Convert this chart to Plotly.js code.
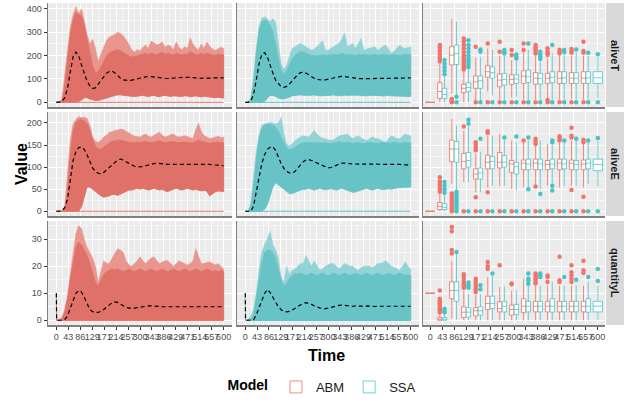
<!DOCTYPE html>
<html><head><meta charset="utf-8">
<script src="https://cdn.plot.ly/plotly-3.0.1.min.js"></script>
<style>html,body{margin:0;padding:0;background:#fff}#chart{width:627px;height:402px}</style>
</head><body><div id="chart"></div>
<script>
// ---------------- DATA ----------------
const TIME = [0,10,20,30,40,50,60,70,80,90,
 100,110,120,130,140,150,160,170,180,190,
 200,210,220,230,240,250,260,270,280,290,
 300,310,320,330,340,350,360,370,380,390,
 400,410,420,430,440,450,460,470,480,490,
 500,510,520,530,540,550,560,570,580,590,
 600];
const TIME_L = [0,1,10,20,30,40,50,60,70,80,90,
 100,110,120,130,140,150,160,170,180,190,
 200,210,220,230,240,250,260,270,280,290,
 300,310,320,330,340,350,360,370,380,390,
 400,410,420,430,440,450,460,470,480,490,
 500,510,520,530,540,550,560,570,580,590,
 600];
const TICK_TIMES = [0,42.857,85.714,128.571,171.429,214.286,257.143,300,342.857,385.714,428.571,471.429,514.286,557.143,600];
const TICK_LABELS = ['0','43','86','129','171','214','257','300','343','386','429','471','514','557','600'];
const Y_TICKS_T = [0,100,200,300,400];
const Y_TICKS_E = [0,50,100,150,200];
const Y_TICKS_L = [0,10,20,30];
const MODELS = ['ABM','SSA'];
const ROW_LABELS = ['aliveT','aliveE','quantityL'];

// aliveT trajectories (envelope of runs: spikes max, dense top, bottom, mean)
const T_ABM_hi = [0,0,15,110,225,320,375,410,380,400,
 350,290,250,270,230,175,205,235,265,280,
 285,290,300,295,285,270,250,225,215,225,
 220,235,245,230,262,255,245,250,258,235,
 245,240,225,258,235,225,238,230,275,250,
 232,225,250,230,258,240,228,222,230,236,
 230];
const T_ABM_top = [0,0,5,70,185,290,350,385,375,370,
 330,270,205,155,128,132,152,178,198,212,
 218,222,225,220,214,205,198,194,195,200,
 203,205,210,205,212,208,203,210,214,205,
 210,205,202,210,205,203,207,205,216,210,
 203,205,210,205,212,205,203,200,205,205,
 203];
const T_ABM_lo = [0,0,0,0,0,0,0,0,3,10,
 20,20,14,10,8,8,10,14,18,22,
 26,30,32,32,30,28,28,26,25,26,
 28,30,27,25,28,30,26,24,28,30,
 27,25,28,30,26,25,28,27,24,26,
 28,25,23,26,27,24,22,20,22,20,
 18];
const T_ABM_mean = [0,0,3,20,60,130,195,215,200,160,
 120,90,70,60,62,78,95,112,125,132,
 134,126,114,103,96,93,93,95,98,102,
 105,108,110,111,110,108,106,105,104,103,
 102,103,105,107,108,108,107,107,107,106,
 105,103,103,104,104,104,104,104,104,105,
 105];
const T_SSA_hi = [0,0,20,110,230,320,360,366,358,345,
 358,345,250,165,140,160,195,230,238,245,
 252,245,238,230,223,228,238,250,263,225,
 223,232,238,245,252,270,297,238,245,252,
 230,250,273,223,228,230,235,238,223,230,
 240,245,225,209,220,235,245,235,230,235,
 238];
const T_SSA_top = [0,0,10,85,210,310,345,352,348,330,
 300,250,185,138,122,133,160,185,200,210,
 215,215,210,205,200,200,198,200,203,200,
 200,203,205,203,205,210,205,203,205,203,
 200,205,203,205,203,200,203,205,200,203,
 205,203,200,203,205,203,200,203,205,203,
 205];
const T_SSA_lo = [0,0,0,0,0,0,0,5,15,30,
 30,25,18,15,15,18,22,28,30,31,
 32,30,31,29,30,32,30,28,30,31,
 29,30,32,30,28,29,31,30,28,29,
 30,31,29,27,28,30,29,28,30,29,
 27,28,30,28,26,27,28,27,26,25,
 25];
const T_SSA_mean = [0,0,5,35,95,165,205,213,195,155,
 125,95,80,67,64,68,78,92,107,119,
 127,129,125,117,110,103,98,95,95,96,
 98,101,104,108,110,111,110,108,105,104,
 103,102,101,101,102,102,103,103,104,104,
 104,104,104,104,103,104,104,104,104,105,
 105];

// aliveE trajectories
const E_ABM_hi = [0,0,0,10,77,160,198,208,214,212,
 213,210,195,168,158,156,160,168,172,179,
 180,183,184,186,185,181,178,172,170,169,
 168,172,175,170,168,172,176,179,172,168,
 170,174,175,170,168,170,171,169,166,164,
 185,199,180,171,168,164,166,168,170,167,
 168];
const E_ABM_top = [0,0,0,6,45,130,182,200,207,207,
 205,198,184,163,148,141,141,145,151,155,
 158,160,161,161,160,158,156,155,155,156,
 155,157,158,156,155,156,158,159,157,155,
 156,157,158,156,155,156,157,156,155,154,
 158,161,158,156,155,154,155,156,157,156,
 155];
const E_ABM_lo = [0,0,0,0,0,0,0,0,0,10,
 35,55,55,50,45,40,35,32,33,35,
 38,38,36,40,42,45,48,48,50,52,
 50,52,50,48,50,52,50,48,50,46,
 45,48,50,52,50,48,50,52,50,48,
 50,48,46,48,45,35,40,44,46,45,
 45];
const E_ABM_mean = [0,0,2,8,28,78,115,135,144,146,
 140,128,112,98,90,86,85,88,94,100,
 106,112,116,118,116,112,108,105,102,100,
 100,101,103,105,107,108,109,108,107,107,
 106,106,106,106,106,106,106,106,106,107,
 107,107,106,106,106,106,105,105,104,104,
 103];
const E_SSA_hi = [0,0,20,80,135,172,194,198,200,201,
 200,198,200,213,175,152,148,152,160,165,
 168,171,170,168,175,183,175,168,166,164,
 162,160,162,166,171,172,174,175,170,164,
 168,171,166,162,160,164,168,166,164,162,
 158,156,165,171,168,164,164,170,175,172,
 171];
const E_SSA_top = [0,0,10,55,118,165,188,195,197,197,
 195,190,181,168,153,143,139,141,145,150,
 153,155,156,156,155,155,156,155,154,155,
 154,153,155,156,157,156,155,156,155,154,
 155,156,154,153,155,156,155,154,153,155,
 156,155,154,155,156,155,154,155,156,155,
 155];
const E_SSA_lo = [0,0,0,0,0,0,0,5,15,35,
 55,65,60,55,50,45,40,40,42,45,
 48,50,50,52,50,48,50,52,50,49,
 50,51,50,48,50,52,50,48,45,43,
 44,45,48,50,52,50,48,50,52,50,
 49,50,51,50,52,53,54,55,55,55,
 55];
const E_SSA_mean = [0,0,0,12,45,82,108,128,140,145,
 146,138,122,108,97,90,87,86,90,98,
 106,112,116,117,115,112,109,106,103,100,
 98,99,101,104,107,109,109,108,108,107,
 107,107,107,106,106,106,106,106,106,106,
 106,106,106,106,106,106,106,105,105,105,
 105];

// quantityL trajectories (time grid TIME_L)
const L_ABM_hi = [10,0,0.5,1,4,9,17,24,32,35,34,
 30,27,25,23,20,14,18,22,21,21,
 23,25,26.5,26,25,22,20.5,20,21,22,
 23.5,22,21,22,23,23.5,22,21,21.5,22,
 22,21,20,21,22,21.5,21,20.5,21,22,
 26.5,24,21,21,21.5,21.6,21,20.5,21,20,
 19];
const L_ABM_top = [10,0,0,0.5,3,8,15,21,27,29,28,
 26,24,21,17,14,12.5,15,17,18,18.5,
 19,18.5,19,18.5,18,18.5,19,18.5,18,18.5,
 19,18.5,18,18.5,19,18.5,18,18.5,19,18.5,
 18,18.5,19,18.5,18,18.5,19,18.5,18,18.5,
 19,18.5,18,18.5,19,18.5,18,18.5,18,18.5,
 18];
const L_ABM_lo = [0,0,0,0,0,0,0,0,0,0,0,
 0,0,0,0,0,0,0,0,0,0,
 0,0,0,0,0,0,0,0,0,0,
 0,0,0,0,0,0,0,0,0,0,
 0,0,0,0,0,0,0,0,0,0,
 0,0,0,0,0,0,0,0,0,0,
 0];
const L_ABM_mean = [10,0,0,0,0.3,1.5,4.5,7.5,10,11,10.5,
 8.5,6,4,3.2,2.9,2.9,3.3,4,4.9,5.8,
 6.5,6.8,6.6,6,5.3,4.8,4.5,4.4,4.5,4.7,
 4.9,5.1,5.2,5.3,5.3,5.3,5.2,5.1,5,5,
 5,5,5,5.1,5.1,5.1,5,5,5,5,
 5.1,5.1,5,5,5,5,5,5,5,5,
 5];
const L_SSA_hi = [10,0,0.3,1.5,4,10,19,25,28,30,33,
 28,26,23,16,14,20,17,18.5,19,20,
 21,21,24,22,20,22,20,18.5,19,20,
 20.5,21,21,20,19,20,21,20.5,20,20,
 19,18.5,19.5,20,20,20,19.5,20,21,21,
 21.5,22,21,20,19.5,19,18.5,20,21.6,20,
 19];
const L_SSA_top = [10,0,0,0.5,2,8,15,21,25,26,26,
 25,23,19,15,12.5,13.5,15.5,16.5,17.5,17,
 17.5,17,16.5,17,17.5,17,16.5,17,17.5,17,
 16.5,17,17.5,17,16.5,17,17.5,17,16.5,17,
 17.5,17,16.5,17,17.5,17,16.5,17,17.5,17,
 16.5,17,17.5,17,16.5,17,17.5,17,16.5,17,
 16.5];
const L_SSA_lo = [0,0,0,0,0,0,0,0,0,0,0,
 0,0,0,0,0,0,0,0,0,0,
 0,0,0,0,0,0,0,0,0,0,
 0,0,0,0,0,0,0,0,0,0,
 0,0,0,0,0,0,0,0,0,0,
 0,0,0,0,0,0,0,0,0,0,
 0];
const L_SSA_mean = [10,0,0,0,0.2,2,4.8,7.5,9.9,11.4,10.3,
 8.5,6.5,5,3.9,3.3,3.1,3.3,3.8,4.4,5.2,
 5.9,6.3,6.5,6.3,5.9,5.4,4.9,4.6,4.4,4.3,
 4.5,4.8,5.1,5.3,5.5,5.6,5.5,5.4,5.2,5.2,
 5.3,5.2,5.1,5.2,5.3,5.2,5.2,5.1,5.2,5.3,
 5.2,5.2,5.1,5.2,5.2,5.3,5.2,5.2,5.1,5.2,
 5.2];

// Boxplot statistics per sampled time (15 categories)
const BT_ABM_q1  = [0,17,160,41,60,107,67,77,81,78,81,81,81,81,null];
const BT_ABM_med = [0,46,202,60,88,131,95,98,112,103,103,103,103,103,null];
const BT_ABM_q3  = [0,84,238,77,113,157,121,118,135,127,124,131,127,131,null];
const BT_ABM_lo  = [0,0,38,0,8,46,12,20,12,12,20,12,15,12,null];
const BT_ABM_hi  = [0,165,357,130,190,231,200,180,215,200,188,200,200,200,null];
const BT_ABM_out = [[],[175,185,195,205,215,225,235,245],[0,3,8,14],[140,150,160,170,180,190,200,215,230,245,260,273],[238,0],[252,0],[216,259,0],[202,224,0],[224,252,0],[209,218,227,236,245,0],[202,210,218,231,10,0],[209,218,225,0],[212,220,228,0],[212,220,259,0],[]];
const BT_SSA_q1  = [null,17,162,46,60,103,74,81,85,78,84,81,81,81,81];
const BT_SSA_med = [null,34,209,64,93,127,98,100,110,103,107,105,103,105,105];
const BT_SSA_q3  = [null,60,245,84,113,152,124,118,138,124,131,131,127,131,131];
const BT_SSA_lo  = [null,0,31,0,5,30,12,25,10,12,12,12,12,12,17];
const BT_SSA_hi  = [null,110,345,140,195,224,200,175,225,175,210,205,212,200,195];
const BT_SSA_out = [[],[120,135,150,165,181],[24,0],[150,160,170,180,190,200,215,230,245,266],[216,226,0],[0],[209,215,224,0],[188,195,205,0],[252,0],[185,195,205,216,0],[245,0],[215,224,0],[226,0],[212,0],[206,0]];

const BE_ABM_q1  = [0,4,112,96,73,96,98,88,94,94,94,94,94,94,null];
const BE_ABM_med = [0,11,141,113,84,111,111,107,109,109,106,109,109,107,null];
const BE_ABM_q3  = [0,20,161,131,96,127,133,115,116,118,115,118,116,116,null];
const BE_ABM_lo  = [0,0,62,66,43,54,58,50,54,60,58,54,58,54,null];
const BE_ABM_hi  = [0,39,209,182,130,171,175,160,156,148,152,155,160,152,null];
const BE_ABM_out = [[],[44,50,56,62,68,77],[0,5,10,15,20,25,30,35,40],[192,0],[138,144,150,156,32,0],[177,181,43,0],[0],[0],[160,0],[152,158,164,56,0],[0],[160,165,170,0],[167,171,189,48,0],[156,162,33,0],[]];
const BE_SSA_q1  = [null,4,111,100,73,96,100,84,94,94,96,96,94,96,92];
const BE_SSA_med = [null,9,141,115,87,113,111,101,107,107,107,107,106,109,106];
const BE_SSA_q3  = [null,17,158,133,98,124,126,111,118,118,118,118,115,118,118];
const BE_SSA_lo  = [null,0,47,66,43,58,58,47,54,50,62,58,58,62,56];
const BE_SSA_hi  = [null,36,194,192,135,171,161,156,160,160,152,156,160,156,160];
const BE_SSA_out = [[],[42,50,58,66],[0,5,10,15,20,25,30,35,40,44],[198,207,0],[164,0],[0],[167,0],[169,0],[167,50,0],[39,0],[156,160,58,47,0],[160,0],[164,0],[160,0],[166,0]];

const BL_ABM_q1  = [10,0,8,1,1.6,4,3.1,1.9,2.8,3.1,3.1,3.1,3.1,3.1,null];
const BL_ABM_med = [10,0,11,3,3.5,6.2,4.3,4,5.2,5.2,5.2,5.2,5.2,5.2,null];
const BL_ABM_q3  = [10,1,14.2,5,4.7,8.9,6.8,5.6,8,7,7,7,7,7,null];
const BL_ABM_lo  = [10,0,0.6,0,0,0,0,0,0,0,0,0,0,0,null];
const BL_ABM_hi  = [10,2.5,22,11,9.3,16,12.3,11,15.4,12.8,12.8,12.8,12.8,12.8,null];
const BL_ABM_out = [[],[3,3.5,4,4.5,5,5.5,6,6.5,7,7.5,8,11],[24.7,26,33,34.5],[12,13,14,15,16,17],[10.5,11.5,12.5,13.5,14.5,15.4],[19,20,21.6],[20.4],[13.3,13.6],[],[13.6,14.2,15,15.6,16.4,17.3],[14.2,16,16.6],[14.2,14.8,23.5],[14.2,15.4,16.6,17.8,20.4],[17.5,18.5,22],[]];
const BL_SSA_q1  = [null,0,7,1.2,1.9,4.3,3.1,2.1,3.1,3.1,3,3.1,3.1,3,3.1];
const BL_SSA_med = [null,0.4,11,3,3.5,6.2,5.2,4,5.2,5.2,5.2,5.2,5.2,5.2,5.2];
const BL_SSA_q3  = [null,1,14.2,4.7,5,8.9,7,5.9,7,7,8,7,7,8,7];
const BL_SSA_lo  = [null,0,0.3,0,0,0,0,0,0,0,0,0,0,0,0];
const BL_SSA_hi  = [null,2.5,24.7,9.8,9.6,16.5,12.5,11,12.8,12.8,14.2,12.8,12.8,14.2,12.8];
const BL_SSA_out = [[],[3,3.5,4.3],[25.3],[12,13,14],[11.5,13],[17.3],[],[],[13.5,14.8,15.4,17.3],[16,16.7,17.3],[],[16],[15],[16],[14.5,19]];

// ---------------- LAYOUT / STYLE ----------------
const W = 627, H = 402;
const COLX = [[48,232],[237,419],[423,605]];
const ROWY = [[3,107],[112,216],[221,325]];
const FONT = 'Liberation Sans, Arial, Helvetica, sans-serif';
const STYLE = {
  ABM: {core:'rgb(223,113,104)', fringe:'rgb(233,150,142)', zero:'rgb(236,118,108)', box:'rgba(240,118,108,0.85)', pt:'rgb(240,116,106)'},
  SSA: {core:'rgb(104,195,198)', fringe:'rgb(146,211,213)', zero:'rgb(90,196,199)', box:'rgba(50,193,198,0.7)', pt:'rgb(70,196,200)'}
};
const ROWS = [
  {range:[-20,425], ticks:Y_TICKS_T, time:TIME,
   band:{ABM:[T_ABM_hi,T_ABM_top,T_ABM_lo,T_ABM_mean], SSA:[T_SSA_hi,T_SSA_top,T_SSA_lo,T_SSA_mean]},
   box:{ABM:[BT_ABM_q1,BT_ABM_med,BT_ABM_q3,BT_ABM_lo,BT_ABM_hi,BT_ABM_out], SSA:[BT_SSA_q1,BT_SSA_med,BT_SSA_q3,BT_SSA_lo,BT_SSA_hi,BT_SSA_out]}},
  {range:[-10.7,224.7], ticks:Y_TICKS_E, time:TIME,
   band:{ABM:[E_ABM_hi,E_ABM_top,E_ABM_lo,E_ABM_mean], SSA:[E_SSA_hi,E_SSA_top,E_SSA_lo,E_SSA_mean]},
   box:{ABM:[BE_ABM_q1,BE_ABM_med,BE_ABM_q3,BE_ABM_lo,BE_ABM_hi,BE_ABM_out], SSA:[BE_SSA_q1,BE_SSA_med,BE_SSA_q3,BE_SSA_lo,BE_SSA_hi,BE_SSA_out]}},
  {range:[-1.75,36.75], ticks:Y_TICKS_L, time:TIME_L,
   band:{ABM:[L_ABM_hi,L_ABM_top,L_ABM_lo,L_ABM_mean], SSA:[L_SSA_hi,L_SSA_top,L_SSA_lo,L_SSA_mean]},
   box:{ABM:[BL_ABM_q1,BL_ABM_med,BL_ABM_q3,BL_ABM_lo,BL_ABM_hi,BL_ABM_out], SSA:[BL_SSA_q1,BL_SSA_med,BL_SSA_q3,BL_SSA_lo,BL_SSA_hi,BL_SSA_out]}}
];

const CATS = TICK_LABELS.map((_, i) => i + 1);
const timeMinor = TICK_TIMES.slice(1).map((v, i) => (v + TICK_TIMES[i]) / 2);

const traces = [];
const layout = {
  width: W, height: H, margin: {l:0, r:0, t:0, b:0},
  paper_bgcolor: '#ffffff', plot_bgcolor: '#EBEBEB',
  font: {family: FONT, color: '#1a1a1a'},
  showlegend: true,
  boxmode: 'overlay',
  legend: {orientation:'h', x: 323/W, xanchor:'center', y: 1 - 387/H, yanchor:'middle',
    title: {text:'<b>Model</b>', side:'left', font:{size:14, color:'#000'}},
    font: {size:13, color:'#1a1a1a'}, bgcolor:'rgba(0,0,0,0)', traceorder:'normal', itemwidth:30},
  shapes: [], annotations: []
};

function axId(r, c) { const p = r * 3 + c; return p === 0 ? '' : String(p + 1); }

let legendShown = {ABM:false, SSA:false};

ROWS.forEach((row, r) => {
  const yMinor = row.ticks.slice(1).map((v, i) => (v + row.ticks[i]) / 2);
  const step = row.ticks[1] - row.ticks[0];
  const extra = row.ticks[row.ticks.length - 1] + step / 2;
  if (extra < row.range[1]) yMinor.push(extra);

  for (let c = 0; c < 3; c++) {
    const id = axId(r, c);
    const isBox = c === 2;
    layout['xaxis' + id] = {
      domain: [COLX[c][0] / W, COLX[c][1] / W], anchor: 'y' + id,
      range: isBox ? [0.4, 15.6] : [-30, 630],
      tickmode: 'array', tickvals: isBox ? CATS : TICK_TIMES, ticktext: TICK_LABELS,
      showticklabels: r === 2, ticks: r === 2 ? 'outside' : '', ticklen: 3, tickwidth: 1, tickcolor: '#333333',
      tickangle: 0, tickfont: {size: 9, color: '#4D4D4D', family: FONT},
      showline: true, linecolor: '#808080', linewidth: 1.5,
      showgrid: true, gridcolor: '#FFFFFF', gridwidth: 1, zeroline: false, fixedrange: true,
      minor: isBox ? {showgrid:false} : {tickvals: timeMinor, showgrid: true, gridcolor: '#FFFFFF', gridwidth: 0.5, ticks: ''}
    };
    layout['yaxis' + id] = {
      domain: [1 - ROWY[r][1] / H, 1 - ROWY[r][0] / H], anchor: 'x' + id,
      range: row.range, tickmode: 'array', tickvals: row.ticks,
      showticklabels: c === 0, ticks: c === 0 ? 'outside' : '', ticklen: 3, tickwidth: 1, tickcolor: '#333333',
      tickfont: {size: 9, color: '#4D4D4D', family: FONT},
      showline: true, linecolor: '#808080', linewidth: 1.5,
      showgrid: true, gridcolor: '#FFFFFF', gridwidth: 1, zeroline: false, fixedrange: true,
      minor: {tickvals: yMinor, showgrid: true, gridcolor: '#FFFFFF', gridwidth: 0.5, ticks: ''}
    };

    const xa = 'x' + id, ya = 'y' + id;
    if (!isBox) {
      const m = MODELS[c];
      const [hi, top, lo, mean] = row.band[m];
      const t = row.time;
      const tRev = t.slice().reverse();
      traces.push({type:'scatter', mode:'lines', xaxis:xa, yaxis:ya, showlegend:false, hoverinfo:'skip',
        x: t.concat(tRev), y: hi.concat(lo.slice().reverse()), fill:'toself',
        fillcolor: STYLE[m].fringe, line:{color: STYLE[m].fringe, width:0.6}});
      traces.push({type:'scatter', mode:'lines', xaxis:xa, yaxis:ya, showlegend:false, hoverinfo:'skip',
        x: t.concat(tRev), y: top.concat(lo.slice().reverse()), fill:'toself',
        fillcolor: STYLE[m].core, line:{color: STYLE[m].core, width:0.8}});
      traces.push({type:'scatter', mode:'lines', xaxis:xa, yaxis:ya, showlegend:false, hoverinfo:'skip',
        x: [t[0], t[t.length - 1]], y: [0, 0], line:{color: STYLE[m].zero, width:1}});
      traces.push({type:'scatter', mode:'lines', xaxis:xa, yaxis:ya, showlegend:false, hoverinfo:'skip',
        x: t, y: mean, line:{color:'#000000', width:1.2, dash:'4px,3px'}});
    } else {
      MODELS.forEach((m, mi) => {
        const [q1, med, q3, lo, hi, out] = row.box[m];
        const other = row.box[MODELS[1 - mi]][0];
        const groups = {dodge:{x:[],q1:[],med:[],q3:[],lo:[],hi:[]}, solo:{x:[],q1:[],med:[],q3:[],lo:[],hi:[]}};
        const ox = [], oy = [];
        CATS.forEach((cat, i) => {
          if (q1[i] === null) return;
          const both = other[i] !== null;
          const g = both ? groups.dodge : groups.solo;
          const pos = both ? cat + (mi === 0 ? -0.195 : 0.195) : cat;
          g.x.push(pos); g.q1.push(q1[i]); g.med.push(med[i]); g.q3.push(q3[i]); g.lo.push(lo[i]); g.hi.push(hi[i]);
          out[i].forEach(v => { ox.push(pos); oy.push(v); });
        });
        ['dodge','solo'].forEach(k => {
          const g = groups[k];
          if (!g.x.length) return;
          const show = !legendShown[m];
          legendShown[m] = true;
          traces.push({type:'box', xaxis:xa, yaxis:ya, name:m, legendgroup:m, showlegend:show,
            x:g.x, q1:g.q1, median:g.med, q3:g.q3, lowerfence:g.lo, upperfence:g.hi,
            boxpoints:false, width: k === 'dodge' ? 0.37 : 0.78, whiskerwidth:0,
            fillcolor:'#FFFFFF', line:{color: STYLE[m].box, width:1}, hoverinfo:'skip'});
        });
        traces.push({type:'scatter', mode:'markers', xaxis:xa, yaxis:ya, showlegend:false, hoverinfo:'skip',
          x: ox, y: oy, marker:{color: STYLE[m].pt, size:4.5, line:{width:0}}});
      });
    }
  }

  // facet strip
  layout.shapes.push({type:'rect', xref:'paper', yref:'paper', x0:606/W, x1:624/W,
    y0: 1 - ROWY[r][1] / H, y1: 1 - ROWY[r][0] / H, fillcolor:'#D9D9D9', line:{width:0}, layer:'below'});
  layout.annotations.push({xref:'paper', yref:'paper', x:615/W, y:1 - (ROWY[r][0] + ROWY[r][1]) / 2 / H,
    text:'<b>' + ROW_LABELS[r] + '</b>', textangle:90, showarrow:false, xanchor:'center', yanchor:'middle',
    font:{size:11, color:'#1A1A1A', family:FONT}});
});

layout.annotations.push({xref:'paper', yref:'paper', x:22/W, y:1 - 164/H, text:'<b>Value</b>', textangle:-90,
  showarrow:false, xanchor:'center', yanchor:'middle', font:{size:16, color:'#000', family:FONT}});
layout.annotations.push({xref:'paper', yref:'paper', x:326/W, y:1 - 355/H, text:'<b>Time</b>',
  showarrow:false, xanchor:'center', yanchor:'middle', font:{size:16, color:'#000', family:FONT}});

Plotly.newPlot('chart', traces, layout, {displayModeBar:false, staticPlot:true});
</script></body></html>
